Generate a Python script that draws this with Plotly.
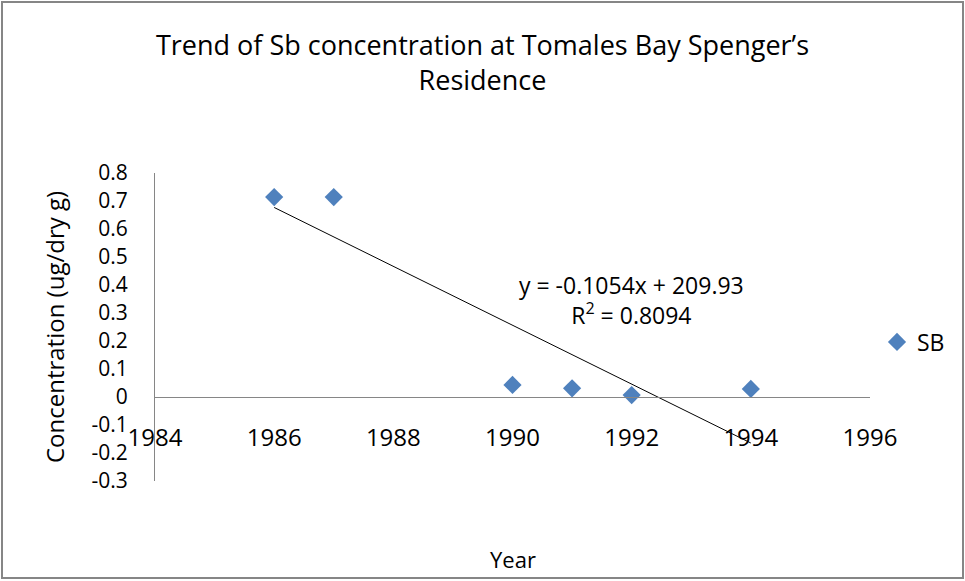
import numpy as np
import plotly.graph_objects as go

years = [1986, 1987, 1990, 1991, 1992, 1994]
sb_values = [0.714, 0.714, 0.043, 0.031, 0.007, 0.029]
x_ticks = [1984, 1986, 1988, 1990, 1992, 1994, 1996]
y_ticks = [-0.3, -0.2, -0.1, 0, 0.1, 0.2, 0.3, 0.4, 0.5, 0.6, 0.7, 0.8]
y_tick_text = ["-0.3", "-0.2", "-0.1", "0", "0.1", "0.2", "0.3", "0.4", "0.5", "0.6", "0.7", "0.8"]
equation_text = "y = -0.1054x + 209.93<br>R<sup>2</sup> = 0.8094"

W, H = 965, 581
L, R, T, B = 155, 95, 173, 100
pw, ph = W - L - R, H - T - B
ymin, ymax = -0.3, 0.8

slope, intercept = np.polyfit(years, sb_values, 1)
trend_x = [min(years), max(years)]
trend_y = [slope * v + intercept for v in trend_x]

font = "Open Sans"
fig = go.Figure()
fig.add_trace(go.Scatter(x=years, y=sb_values, mode="markers", name="SB",
                         marker=dict(symbol="diamond", size=14, color="#4F81BD"),
                         showlegend=True))
fig.add_trace(go.Scatter(x=trend_x, y=trend_y, mode="lines", showlegend=False,
                         line=dict(color="black", width=1)))

def px_x(p):
    return (p - L) / pw

def px_y(p):
    return (H - B - p) / ph

fig.add_shape(type="rect", xref="paper", yref="paper",
              x0=px_x(2), x1=px_x(963), y0=px_y(578), y1=px_y(2),
              line=dict(color="#868686", width=2), fillcolor="rgba(0,0,0,0)")

fig.add_annotation(x=1992.0, y=(397 - 300) / 280, xref="x", yref="y", text=equation_text,
                   showarrow=False, font=dict(family=font, size=23, color="black"),
                   align="center")
fig.add_annotation(x=0.5, y=px_y(559), xref="paper", yref="paper", text="Year",
                   xanchor="center", yanchor="middle",
                   showarrow=False, font=dict(family=font, size=22, color="black"))

fig.update_layout(
    width=W, height=H,
    margin=dict(l=L, r=R, t=T, b=B),
    paper_bgcolor="white", plot_bgcolor="white",
    title=dict(text="Trend of Sb concentration at Tomales Bay Spenger’s<br>Residence",
               x=0.5, xanchor="center", y=1 - 55 / H, yanchor="middle",
               font=dict(family=font, size=27, color="black")),
    legend=dict(x=px_x(877), xanchor="left", y=px_y(342), yanchor="middle",
                font=dict(family=font, size=23, color="black"),
                bgcolor="rgba(0,0,0,0)", itemwidth=30, tracegroupgap=0),
    xaxis=dict(range=[1984, 1996], tickvals=x_ticks, ticktext=[str(v) for v in x_ticks],
               showgrid=False, zeroline=False, showline=True, linecolor="#868686",
               linewidth=1, anchor="free", position=(0 - ymin) / (ymax - ymin),
               ticks="", tickfont=dict(family=font, size=24, color="black"),
               ticklabelstandoff=19),
    yaxis=dict(range=[ymin, ymax], tickvals=y_ticks, ticktext=y_tick_text,
               showgrid=False, zeroline=False, showline=True, linecolor="#868686",
               linewidth=1, ticks="", tickfont=dict(family=font, size=21, color="black"),
               ticklabelstandoff=22,
               title=dict(text="Concentration (ug/dry g)", standoff=20,
                          font=dict(family=font, size=24, color="black"))),
)

fig.write_html("out.html", config={"displayModeBar": False},
               post_script="document.body.style.margin='0';")
